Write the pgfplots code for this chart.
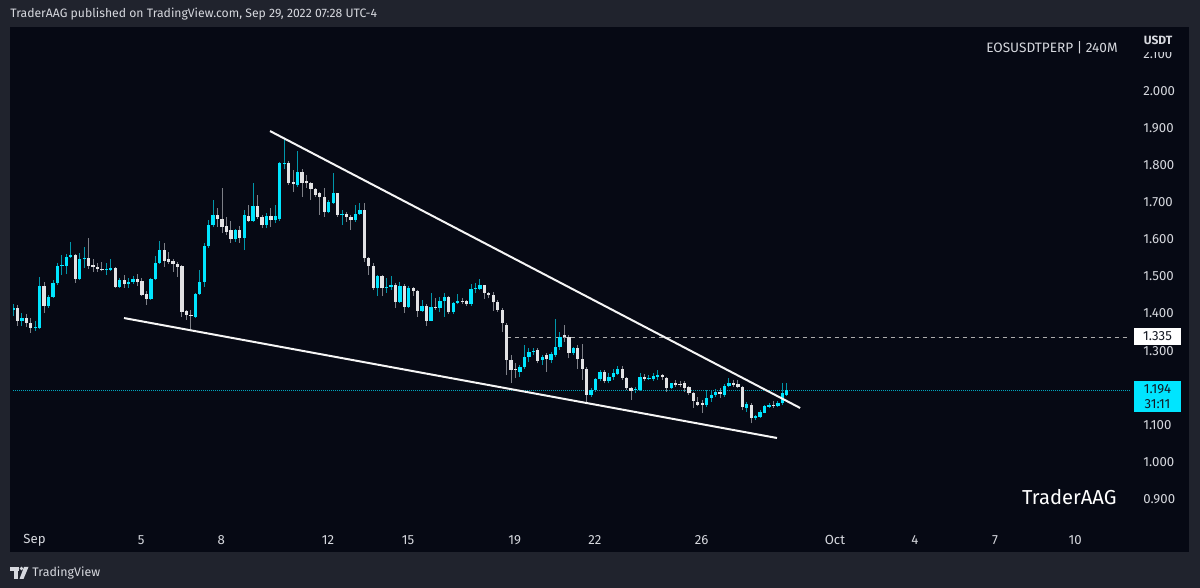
\documentclass[border=0pt]{standalone}
\usepackage{fontspec}
\setmainfont{Fira Sans}
\usepackage{pgfplots}
\usepackage{pgfplotstable}
\pgfplotsset{compat=1.18}
\definecolor{outerbg}{RGB}{32,35,45}
\definecolor{panelbg}{RGB}{6,9,20}
\definecolor{upbody}{RGB}{0,229,255}
\definecolor{upwick}{RGB}{0,150,170}
\definecolor{dnbody}{RGB}{226,226,228}
\definecolor{dnwick}{RGB}{125,127,135}
\definecolor{tvtext}{RGB}{214,216,222}
\definecolor{boxtext}{RGB}{19,23,34}
\definecolor{dotline}{RGB}{0,165,190}
\pgfplotstableread{
k o h l c up
0 1.410 1.426 1.394 1.415 1
1 1.415 1.424 1.367 1.380 0
2 1.381 1.402 1.367 1.388 1
3 1.388 1.399 1.364 1.375 0
4 1.375 1.388 1.348 1.361 0
5 1.361 1.380 1.353 1.364 1
6 1.361 1.498 1.358 1.474 1
7 1.474 1.485 1.402 1.420 0
8 1.420 1.450 1.415 1.445 1
9 1.445 1.490 1.443 1.483 1
10 1.483 1.536 1.477 1.528 1
11 1.528 1.558 1.504 1.531 1
12 1.528 1.560 1.506 1.553 1
13 1.553 1.593 1.550 1.558 1
14 1.558 1.560 1.483 1.493 0
15 1.493 1.563 1.490 1.547 1
16 1.547 1.580 1.523 1.550 1
17 1.550 1.604 1.520 1.528 0
18 1.531 1.547 1.512 1.525 0
19 1.525 1.536 1.512 1.520 0
20 1.520 1.539 1.514 1.517 0
21 1.517 1.536 1.504 1.520 1
22 1.518 1.547 1.515 1.523 1
23 1.523 1.526 1.470 1.472 0
24 1.472 1.496 1.470 1.491 1
25 1.491 1.504 1.469 1.479 0
26 1.479 1.496 1.469 1.484 1
27 1.484 1.501 1.480 1.493 1
28 1.493 1.506 1.474 1.486 0
29 1.488 1.496 1.447 1.450 0
30 1.452 1.460 1.423 1.439 0
31 1.439 1.496 1.437 1.493 1
32 1.493 1.555 1.490 1.536 1
33 1.536 1.596 1.533 1.571 1
34 1.571 1.590 1.526 1.542 0
35 1.547 1.566 1.534 1.539 0
36 1.542 1.547 1.512 1.534 0
37 1.534 1.539 1.499 1.526 0
38 1.528 1.531 1.391 1.404 0
39 1.407 1.409 1.383 1.396 0
40 1.396 1.410 1.358 1.393 0
41 1.391 1.456 1.388 1.453 1
42 1.453 1.517 1.450 1.485 1
43 1.485 1.590 1.472 1.582 1
44 1.582 1.652 1.578 1.639 1
45 1.639 1.706 1.633 1.666 1
46 1.666 1.685 1.633 1.654 0
47 1.655 1.738 1.617 1.633 0
48 1.636 1.660 1.612 1.620 0
49 1.625 1.650 1.590 1.601 0
50 1.601 1.628 1.593 1.625 1
51 1.625 1.636 1.590 1.604 0
52 1.604 1.679 1.571 1.666 1
53 1.663 1.693 1.647 1.650 0
54 1.650 1.752 1.647 1.690 1
55 1.690 1.720 1.655 1.660 0
56 1.660 1.666 1.630 1.639 0
57 1.639 1.671 1.630 1.663 1
58 1.663 1.685 1.633 1.652 0
59 1.652 1.693 1.644 1.663 1
60 1.655 1.808 1.650 1.806 1
61 1.803 1.871 1.790 1.806 1
62 1.806 1.812 1.747 1.752 0
63 1.755 1.787 1.728 1.749 0
64 1.747 1.838 1.742 1.782 1
65 1.782 1.790 1.714 1.752 0
66 1.758 1.774 1.739 1.751 0
67 1.751 1.756 1.706 1.735 0
68 1.735 1.739 1.715 1.720 0
69 1.724 1.728 1.666 1.713 0
70 1.713 1.738 1.661 1.675 0
71 1.675 1.706 1.670 1.702 1
72 1.699 1.778 1.695 1.726 1
73 1.724 1.726 1.661 1.666 0
74 1.666 1.679 1.639 1.668 1
75 1.668 1.675 1.648 1.660 0
76 1.660 1.666 1.625 1.652 0
77 1.652 1.693 1.648 1.668 1
78 1.668 1.697 1.666 1.679 1
79 1.679 1.697 1.540 1.549 0
80 1.549 1.553 1.504 1.528 0
81 1.528 1.536 1.464 1.468 0
82 1.468 1.504 1.447 1.501 1
83 1.501 1.504 1.447 1.468 0
84 1.468 1.495 1.456 1.472 1
85 1.472 1.501 1.464 1.477 1
86 1.477 1.483 1.415 1.432 0
87 1.432 1.486 1.428 1.474 1
88 1.474 1.480 1.401 1.419 0
89 1.419 1.475 1.416 1.470 1
90 1.470 1.473 1.448 1.461 0
91 1.461 1.464 1.392 1.408 0
92 1.408 1.436 1.405 1.421 1
93 1.421 1.427 1.366 1.381 0
94 1.381 1.456 1.379 1.418 1
95 1.418 1.441 1.410 1.415 0
96 1.415 1.446 1.405 1.434 1
97 1.434 1.455 1.392 1.446 1
98 1.446 1.448 1.399 1.403 0
99 1.403 1.430 1.399 1.428 1
100 1.428 1.452 1.425 1.434 1
101 1.434 1.441 1.426 1.431 0
102 1.433 1.437 1.421 1.425 0
103 1.425 1.479 1.420 1.467 1
104 1.467 1.483 1.456 1.470 1
105 1.467 1.492 1.464 1.476 1
106 1.476 1.478 1.440 1.455 0
107 1.455 1.459 1.441 1.450 0
108 1.450 1.459 1.408 1.430 0
109 1.430 1.437 1.405 1.411 0
110 1.411 1.414 1.351 1.374 0
111 1.369 1.374 1.234 1.275 0
112 1.275 1.288 1.212 1.248 0
113 1.252 1.266 1.226 1.248 0
114 1.243 1.261 1.230 1.257 1
115 1.257 1.315 1.252 1.282 1
116 1.282 1.306 1.270 1.297 1
117 1.296 1.306 1.288 1.300 1
118 1.302 1.306 1.266 1.273 0
119 1.275 1.288 1.262 1.284 1
120 1.288 1.293 1.243 1.277 0
121 1.275 1.297 1.266 1.291 1
122 1.288 1.385 1.284 1.311 1
123 1.311 1.351 1.302 1.338 1
124 1.341 1.369 1.324 1.336 0
125 1.338 1.342 1.279 1.295 0
126 1.295 1.311 1.288 1.306 1
127 1.308 1.315 1.252 1.277 0
128 1.277 1.318 1.221 1.252 0
129 1.252 1.257 1.163 1.181 0
130 1.181 1.199 1.176 1.194 1
131 1.194 1.226 1.190 1.223 1
132 1.223 1.248 1.217 1.243 1
133 1.243 1.248 1.212 1.217 0
134 1.217 1.239 1.212 1.230 1
135 1.229 1.252 1.221 1.239 1
136 1.237 1.259 1.234 1.252 1
137 1.252 1.259 1.221 1.226 0
138 1.226 1.230 1.194 1.199 0
139 1.199 1.203 1.167 1.192 0
140 1.194 1.203 1.185 1.198 1
141 1.194 1.239 1.192 1.230 1
142 1.228 1.237 1.217 1.224 0
143 1.223 1.235 1.221 1.226 1
144 1.223 1.239 1.219 1.232 1
145 1.230 1.248 1.221 1.235 1
146 1.235 1.237 1.221 1.228 0
147 1.226 1.230 1.190 1.199 0
148 1.199 1.214 1.196 1.212 1
149 1.212 1.221 1.203 1.208 0
150 1.210 1.217 1.201 1.207 0
151 1.212 1.217 1.190 1.199 0
152 1.201 1.205 1.181 1.185 0
153 1.185 1.190 1.145 1.165 0
154 1.163 1.176 1.150 1.154 0
155 1.158 1.167 1.133 1.154 0
156 1.154 1.194 1.149 1.172 1
157 1.172 1.194 1.163 1.181 1
158 1.181 1.196 1.176 1.190 1
159 1.190 1.199 1.172 1.183 0
160 1.181 1.210 1.176 1.205 1
161 1.205 1.226 1.201 1.212 1
162 1.212 1.221 1.203 1.208 0
163 1.210 1.221 1.199 1.201 0
164 1.203 1.205 1.140 1.149 0
165 1.145 1.163 1.136 1.156 1
166 1.154 1.158 1.104 1.118 0
167 1.118 1.127 1.113 1.124 1
168 1.122 1.140 1.118 1.136 1
169 1.133 1.154 1.131 1.151 1
170 1.149 1.158 1.145 1.154 1
171 1.154 1.165 1.145 1.151 0
172 1.151 1.165 1.149 1.160 1
173 1.158 1.214 1.154 1.185 1
174 1.181 1.212 1.178 1.194 1
}\candles
\begin{document}
\begin{tikzpicture}[x=0.5pt,y=0.5pt]
\useasboundingbox (0,0) rectangle (1200,588);
\fill[outerbg] (0,0) rectangle (1200,588);
\fill[panelbg] (10,36) rectangle (1189,561);
\begin{axis}[
  at={(6.5pt,32pt)}, anchor=south west,
  scale only axis, width=558.5pt, height=248pt,
  xmin=0, xmax=251.18, ymin=0.8329, ymax=2.1698,
  axis line style={draw=none}, tick style={draw=none},
  xtick={4.83,28.83,46.83,70.83,88.83,112.83,130.83,154.83,184.83,202.83,220.83,238.83},
  xticklabels={Sep,5,8,12,15,19,22,26,Oct,4,7,10},
  ytick={0.9,1.0,1.1,1.2,1.3,1.4,1.5,1.6,1.7,1.8,1.9,2.0,2.1},
  yticklabels={0.900,1.000,1.100,1.200,1.300,1.400,1.500,1.600,1.700,1.800,1.900,2.000,2.100},
  yticklabel pos=right,
  yticklabel style={anchor=west, inner sep=0pt, xshift=6.5pt},
  xticklabel style={anchor=center, inner sep=0pt, yshift=-8pt},
  tick label style={font=\fontsize{6.6}{7}\selectfont, text=tvtext},
]
% dotted last-price line
\addplot[dotline, line width=0.5pt, dash pattern=on 0.5pt off 0.5pt] coordinates {(0,1.194) (251.18,1.194)};
% dashed level
\addplot[gray!65!white, line width=0.6pt, dash pattern=on 2pt off 2pt] coordinates {(111.0,1.335) (251.18,1.335)};
% wicks (up)
\addplot[upwick, line width=0.5pt, -, quiver={u=0, v={\thisrow{up}*(\thisrow{h}-\thisrow{l})}}]
  table[x=k, y=l] {\candles};
% wicks (down)
\addplot[dnwick, line width=0.5pt, -, quiver={u=0, v={(1-\thisrow{up})*(\thisrow{h}-\thisrow{l})}}]
  table[x=k, y=l] {\candles};
% bodies (up)
\addplot[upbody, line width=1.65pt, -, quiver={u=0, v={\thisrow{up}*max(abs(\thisrow{c}-\thisrow{o}),0.0028)}}]
  table[x=k, y expr={min(\thisrow{o},\thisrow{c})}] {\candles};
% bodies (down)
\addplot[dnbody, line width=1.65pt, -, quiver={u=0, v={(1-\thisrow{up})*max(abs(\thisrow{c}-\thisrow{o}),0.0028)}}]
  table[x=k, y expr={min(\thisrow{o},\thisrow{c})}] {\candles};
% trendlines
\addplot[white!92!gray, line width=1pt] coordinates {(57.8,1.892) (177.0,1.1456)};
\addplot[white!92!gray, line width=1pt] coordinates {(24.96,1.388) (171.8,1.0647)};
\end{axis}
% price-scale labels
\node[fill=white, text=boxtext, minimum width=23.5pt, minimum height=8.5pt, inner sep=0pt,
  font=\fontsize{6.6}{7}\selectfont] at (1157.5,251.5) {1.335};
\node[fill=upbody, text=boxtext, minimum width=23.5pt, minimum height=15.5pt, inner sep=0pt, align=center,
  font=\fontsize{6.6}{7.5}\selectfont] at (1157.5,191.5) {1.194\\31:11};
\node[fill=panelbg, inner xsep=2pt, inner ysep=0pt, minimum height=12pt, text=tvtext,
  font=\fontsize{6}{6}\bfseries\selectfont] at (1158,548) {USDT};
% titles
\node[anchor=east, inner sep=0pt, text=tvtext, font=\fontsize{6.8}{8}\selectfont] at (1118,540) {EOSUSDTPERP | 240M};
\node[anchor=east, inner sep=0pt, text=white, font=\fontsize{10.1}{12}\selectfont] at (1117,91) {TraderAAG};
\node[anchor=west, inner sep=0pt, text=tvtext, font=\fontsize{6.1}{7}\selectfont] at (10,574) {TraderAAG published on TradingView.com, Sep 29, 2022 07:28 UTC-4};
% bottom brand
\fill[tvtext] (10,21) rectangle (19,17);
\fill[tvtext] (14,21) rectangle (18,9);
\fill[tvtext] (21.5,19.5) circle (1.8);
\fill[tvtext] (24,21) -- (28.5,21) -- (23.5,9) -- (19.5,9) -- cycle;
\node[anchor=west, inner sep=0pt, text=tvtext, font=\fontsize{6.2}{7}\selectfont] at (32,15) {TradingView};
\end{tikzpicture}
\end{document}
